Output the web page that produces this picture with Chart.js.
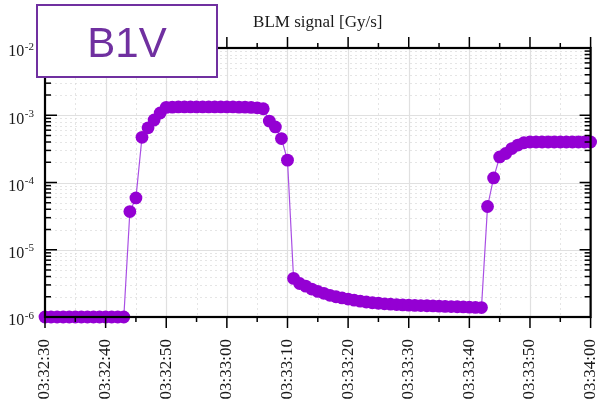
<!DOCTYPE html>
<html>
<head>
<meta charset="utf-8">
<script src="https://cdn.jsdelivr.net/npm/chart.js@4/dist/chart.umd.min.js"></script>
<style>
  html, body { margin: 0; padding: 0; background: #fff; }
  canvas { display: block; }
</style>
</head>
<body>
<canvas id="blmChart" width="597" height="404"></canvas>
<script>
// seconds after 03:32:30, one sample per second
const sampleStep = 1;
const tickSeconds = [0, 10, 20, 30, 40, 50, 60, 70, 80, 90];
const minorSeconds = [5, 15, 25, 35, 45, 55, 65, 75, 85];
const tickLabels = ['03:32:30', '03:32:40', '03:32:50', '03:33:00', '03:33:10',
                    '03:33:20', '03:33:30', '03:33:40', '03:33:50', '03:34:00'];
const decadeExponents = [-6, -5, -4, -3, -2];
const titleText = 'BLM signal [Gy/s]';
const boxLabel = 'B1V';

// BLM signal [Gy/s]
const signal = [
  1e-6, 1e-6, 1e-6, 1e-6, 1e-6, 1e-6, 1e-6, 1e-6, 1e-6, 1e-6, 1e-6, 1e-6, 1e-6, 1e-6,
  3.7e-5, 5.9e-5,
  4.7e-4, 6.5e-4, 8.5e-4, 1.08e-3,
  1.31e-3, 1.32e-3, 1.33e-3, 1.33e-3, 1.33e-3, 1.33e-3, 1.33e-3,
  1.33e-3, 1.33e-3, 1.33e-3, 1.33e-3, 1.33e-3, 1.32e-3, 1.32e-3,
  1.31e-3, 1.29e-3, 1.25e-3,
  8.2e-4, 6.7e-4, 4.5e-4, 2.15e-4,
  3.75e-6, 3.15e-6, 2.88e-6, 2.6e-6, 2.4e-6, 2.25e-6, 2.1e-6, 2.0e-6,
  1.92e-6, 1.85e-6, 1.78e-6, 1.72e-6, 1.67e-6, 1.63e-6, 1.6e-6, 1.57e-6,
  1.55e-6, 1.53e-6, 1.51e-6, 1.5e-6, 1.49e-6, 1.48e-6, 1.47e-6, 1.46e-6,
  1.45e-6, 1.44e-6, 1.43e-6, 1.42e-6, 1.41e-6, 1.4e-6, 1.39e-6, 1.38e-6,
  4.4e-5, 1.17e-4, 2.4e-4, 2.7e-4, 3.2e-4, 3.6e-4, 3.9e-4,
  4.0e-4, 4.0e-4, 4.0e-4, 4.0e-4, 4.0e-4, 4.0e-4, 4.0e-4, 4.0e-4, 4.0e-4, 4.0e-4, 4.0e-4
];

const serif = 'Liberation Serif';
const textColor = '#1a1a1a';
const markColor = '#9400d3';
const boxColor = '#7030a0';

function hline(ctx, x1, x2, y) {
  ctx.beginPath(); ctx.moveTo(x1, y); ctx.lineTo(x2, y); ctx.stroke();
}
function vline(ctx, x, y1, y2) {
  ctx.beginPath(); ctx.moveTo(x, y1); ctx.lineTo(x, y2); ctx.stroke();
}

// minor values 2..9 inside each decade
function minorLogValues() {
  const out = [];
  decadeExponents.slice(0, -1).forEach(e => {
    for (let m = 2; m <= 9; m++) out.push(m * Math.pow(10, e));
  });
  return out;
}

const framePlugin = {
  id: 'frame',
  beforeDraw(chart) {
    const ctx = chart.ctx;
    ctx.save();
    ctx.fillStyle = '#fff';
    ctx.fillRect(0, 0, chart.width, chart.height);
    ctx.restore();
  },
  beforeDatasetsDraw(chart) {
    const { ctx, chartArea: { left, right, top, bottom }, scales: { x, y } } = chart;
    ctx.save();
    // dashed minor grid
    ctx.strokeStyle = '#dadada';
    ctx.lineWidth = 0.7;
    ctx.setLineDash([2, 3]);
    minorSeconds.forEach(s => vline(ctx, Math.round(x.getPixelForValue(s)) + 0.5, top, bottom));
    minorLogValues().forEach(v => hline(ctx, left, right, Math.round(y.getPixelForValue(v)) + 0.5));
    // solid major grid
    ctx.setLineDash([]);
    ctx.strokeStyle = '#e0e0e0';
    ctx.lineWidth = 1.2;
    tickSeconds.forEach(s => vline(ctx, Math.round(x.getPixelForValue(s)) + 0.5, top, bottom));
    decadeExponents.forEach(e => hline(ctx, left, right, Math.round(y.getPixelForValue(Math.pow(10, e))) + 0.5));
    ctx.restore();
  },
  afterDatasetsDraw(chart) {
    const { ctx, chartArea: { left, right, top, bottom }, scales: { x, y } } = chart;
    ctx.save();
    ctx.strokeStyle = '#000';
    // tick marks: outward on the time axes, inward on the value axes
    ctx.lineWidth = 1.5;
    tickSeconds.forEach(s => {
      const px = x.getPixelForValue(s);
      vline(ctx, px, bottom, bottom + 11);
      vline(ctx, px, top, top - 11);
    });
    minorSeconds.forEach(s => {
      const px = x.getPixelForValue(s);
      vline(ctx, px, bottom, bottom + 5);
      vline(ctx, px, top, top - 5);
    });
    decadeExponents.forEach(e => {
      const py = y.getPixelForValue(Math.pow(10, e));
      hline(ctx, left, left + 12, py);
      hline(ctx, right, right - 11, py);
    });
    minorLogValues().forEach(v => {
      const py = y.getPixelForValue(v);
      hline(ctx, left, left + 6, py);
      hline(ctx, right, right - 6, py);
    });
    // frame
    ctx.lineWidth = 2.2;
    ctx.strokeRect(left, top, right - left, bottom - top);

    // value labels 10^n
    ctx.fillStyle = textColor;
    ctx.textBaseline = 'alphabetic';
    ctx.textAlign = 'right';
    decadeExponents.forEach(e => {
      const py = y.getPixelForValue(Math.pow(10, e));
      const sup = String(e);
      ctx.font = '11px "' + serif + '"';
      const supW = ctx.measureText(sup).width;
      ctx.fillText(sup, 34, py + 1.7);
      ctx.font = '16px "' + serif + '"';
      ctx.fillText('10', 34 - supW - 0.5, py + 8.3);
    });

    // title
    ctx.font = '17px "' + serif + '"';
    ctx.textAlign = 'center';
    ctx.fillText(titleText, (left + right) / 2, 27);
    ctx.restore();
  },
  afterDraw(chart) {
    const ctx = chart.ctx;
    ctx.save();
    ctx.fillStyle = '#fff';
    ctx.fillRect(37, 5, 180, 72);
    ctx.strokeStyle = boxColor;
    ctx.lineWidth = 2;
    ctx.strokeRect(37, 5, 180, 72);
    ctx.fillStyle = boxColor;
    ctx.font = '42px "Liberation Sans"';
    ctx.textAlign = 'center';
    ctx.textBaseline = 'alphabetic';
    ctx.fillText(boxLabel, 127, 56.7);
    ctx.restore();
  }
};

const ctx = document.getElementById('blmChart').getContext('2d');

const blmChart = new Chart(ctx, {
  type: 'line',
  data: {
    datasets: [{
      data: signal.map((v, i) => ({ x: i * sampleStep, y: v })),
      borderColor: 'rgba(160, 60, 225, 0.9)',
      backgroundColor: markColor,
      borderWidth: 1.2,
      pointBackgroundColor: markColor,
      pointBorderWidth: 0,
      pointRadius: 6.4,
      pointHoverRadius: 6.4,
      tension: 0,
      fill: false,
      clip: 10
    }]
  },
  options: {
    responsive: false,
    animation: false,
    events: [],
    layout: { padding: { top: 48, right: 6, left: 0, bottom: 0 } },
    plugins: {
      legend: { display: false },
      tooltip: { enabled: false }
    },
    scales: {
      x: {
        type: 'linear',
        min: 0,
        max: 90,
        afterBuildTicks: scale => { scale.ticks = tickSeconds.map(v => ({ value: v })); },
        afterFit: scale => {
          scale.height = 87;
          scale.paddingLeft = 0;
          scale.paddingRight = 0;
        },
        ticks: {
          callback: (value, index) => tickLabels[index],
          autoSkip: false,
          minRotation: 90,
          maxRotation: 90,
          padding: 22,
          color: textColor,
          font: { family: serif, size: 17 }
        },
        grid: { display: false, drawTicks: false },
        border: { display: false }
      },
      y: {
        type: 'logarithmic',
        min: 1e-6,
        max: 1e-2,
        afterFit: scale => {
          scale.width = 45;
          scale.paddingTop = 0;
          scale.paddingBottom = 0;
        },
        ticks: { display: false },
        grid: { display: false, drawTicks: false },
        border: { display: false }
      }
    }
  },
  plugins: [framePlugin]
});
</script>
</body>
</html>
